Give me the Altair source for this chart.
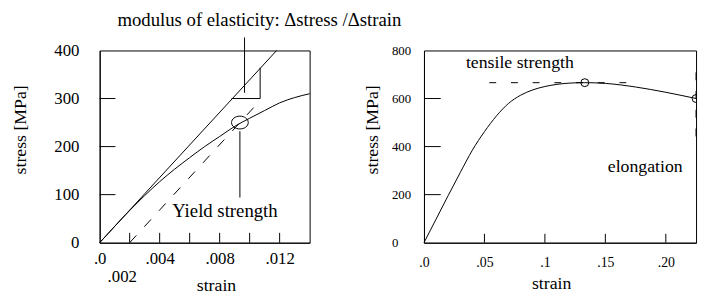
import altair as alt
import pandas as pd

# ---------------- data ----------------
# left panel: low-strain region
left_strain = [0, 0.001, 0.002, 0.003, 0.004, 0.005, 0.006, 0.007, 0.008, 0.009, 0.010, 0.011, 0.012, 0.013, 0.014]
left_stress = [0, 34, 67, 98, 127, 153, 177, 200, 221, 242, 259, 275, 291, 302, 310]

elastic_strain = [0, 0.0118]
elastic_stress = [0, 400]

offset_strain = [0.002, 0.0105]
offset_stress = [0, 289]

triangle_strain = [0.0088, 0.0107, 0.0107]
triangle_stress = [300, 300, 364]

modulus_pointer_strain = [0.00966]
modulus_pointer_top = [427]
modulus_pointer_bottom = [312]

yield_strain = [0.00935]
yield_stress = [250]
yield_pointer_top = [232]
yield_pointer_bottom = [94]

left_note_text = ["modulus of elasticity: \u0394stress /\u0394strain", "Yield strength"]
left_note_strain = [0.01065, 0.00835]
left_note_stress = [464, 66]

left_x_tick_values = [0.002, 0.004, 0.006, 0.008, 0.010, 0.012]
left_y_tick_values = [100, 200, 300]
left_x_label_values = [0, 0.004, 0.008, 0.012]
left_x_labels = [".0", ".004", ".008", ".012"]
left_x_label2_values = [0.002]
left_x_labels2 = [".002"]
left_y_label_values = [0, 100, 200, 300, 400]

# right panel: full curve
right_strain = [0, 0.01, 0.02, 0.03, 0.04, 0.05, 0.06, 0.07, 0.08, 0.09, 0.10, 0.11, 0.12, 0.133, 0.15, 0.175, 0.20, 0.225]
right_stress = [0, 98, 196, 292, 385, 462, 528, 580, 614, 636, 650, 659, 664, 666, 663, 648, 626, 600]

tensile_line_strain = [0.054, 0.174]
tensile_line_stress = [666, 666]

marker_strain = [0.133, 0.225]
marker_stress = [666, 600]

elong_strain = [0.225]
elong_top = [709]
elong_bottom = [429]

right_note_text = ["tensile strength", "elongation"]
right_note_strain = [0.0793, 0.183]
right_note_stress = [746, 313]

right_x_tick_values = [0.05, 0.10, 0.15, 0.20]
right_y_tick_values = [200, 400, 600]
right_x_label_values = [0, 0.05, 0.10, 0.15, 0.20]
right_x_labels = [".0", ".05", ".1", ".15", ".20"]
right_y_label_values = [0, 200, 400, 600, 800]

# ---------------- helpers ----------------
FONT = "Liberation Serif"
LW, LH = 213, 195
RW, RH = 276, 195

lxs = alt.Scale(domain=[0, 0.014], nice=False, zero=False)
lys = alt.Scale(domain=[0, 400], nice=False, zero=False)
rxs = alt.Scale(domain=[0, 0.225], nice=False, zero=False)
rys = alt.Scale(domain=[0, 800], nice=False, zero=False)

AX = dict(labelFont=FONT, titleFont=FONT, labelColor="black", titleColor="black",
          titleFontWeight="normal", grid=False, ticks=False, domainColor="black",
          labelFlush=False, labelOverlap=False)


def lx(f, **kw):
    return alt.X(f"{f}:Q", scale=lxs, axis=None, **kw)


def ly(f, **kw):
    return alt.Y(f"{f}:Q", scale=lys, axis=None, **kw)


def rx(f, **kw):
    return alt.X(f"{f}:Q", scale=rxs, axis=None, **kw)


def ry(f, **kw):
    return alt.Y(f"{f}:Q", scale=rys, axis=None, **kw)


def label_expr(values, labels):
    expr = "''"
    for v, t in reversed(list(zip(values, labels))):
        expr = f"abs(datum.value - {v}) < 1e-9 ? '{t}' : ({expr})"
    return expr


ELLIPSE = "M-1,0A1,0.765,0,1,0,1,0A1,0.765,0,1,0,-1,0Z"

# ---------------- left panel ----------------
ldf = pd.DataFrame({"strain": left_strain, "stress": left_stress})
left_curve = alt.Chart(ldf).mark_line(interpolate="monotone", color="black", strokeWidth=1).encode(
    x=alt.X("strain:Q", scale=lxs,
            axis=alt.Axis(values=left_x_label_values, orient="bottom",
                          labelExpr=label_expr(left_x_label_values, left_x_labels),
                          labelFontSize=17, labelPadding=8,
                          title="strain", titleFontSize=18, titleX=118, titleY=43,
                          titleBaseline="middle", titleAlign="center", **AX)),
    y=alt.Y("stress:Q", scale=lys,
            axis=alt.Axis(values=left_y_label_values, orient="left", format="d", labelFontSize=17,
                          labelPadding=21, labelAlign="right", labelBaseline="middle",
                          title="stress [MPa]", titleFontSize=18, titleX=-80, titleY=80,
                          titleAngle=270, titleBaseline="middle", titleAlign="center", **AX)),
)

elastic = alt.Chart(pd.DataFrame({"strain": elastic_strain, "stress": elastic_stress})).mark_line(
    color="black", strokeWidth=1).encode(x=lx("strain"), y=ly("stress"))

# dashed 0.2% offset line; also carries the second row of x labels (".002")
offset_line = alt.Chart(pd.DataFrame({"strain": offset_strain, "stress": offset_stress})).mark_line(
    color="black", strokeWidth=1, strokeDash=[10, 12]).encode(
    x=alt.X("strain:Q", scale=lxs,
            axis=alt.Axis(values=left_x_label2_values, orient="bottom",
                          labelExpr=label_expr(left_x_label2_values, left_x_labels2),
                          labelFontSize=17, labelPadding=26, labelOffset=-8,
                          domain=False, title=None, **AX)),
    y=ly("stress"))

triangle = alt.Chart(pd.DataFrame({"strain": triangle_strain, "stress": triangle_stress,
                                   "k": list(range(len(triangle_strain)))})).mark_line(
    color="black", strokeWidth=1).encode(x=lx("strain"), y=ly("stress"), order="k:O")

mod_pointer = alt.Chart(pd.DataFrame({"strain": modulus_pointer_strain, "top": modulus_pointer_top,
                                      "bottom": modulus_pointer_bottom})).mark_rule(
    color="black", strokeWidth=1).encode(x=lx("strain"), y=ly("top"), y2="bottom:Q")

yield_pointer = alt.Chart(pd.DataFrame({"strain": yield_strain, "top": yield_pointer_top,
                                        "bottom": yield_pointer_bottom})).mark_rule(
    color="black", strokeWidth=1).encode(x=lx("strain"), y=ly("top"), y2="bottom:Q")

yield_mark = alt.Chart(pd.DataFrame({"strain": yield_strain, "stress": yield_stress})).mark_point(
    shape=ELLIPSE, size=289, filled=False, color="black", strokeWidth=1, opacity=1).encode(
    x=lx("strain"), y=ly("stress"))

left_note = alt.Chart(pd.DataFrame({"t": left_note_text, "strain": left_note_strain,
                                    "stress": left_note_stress})).mark_text(
    font=FONT, fontSize=19, color="black", align="center", baseline="middle").encode(
    x=lx("strain"), y=ly("stress"), text="t:N")

left_xt = alt.Chart(pd.DataFrame({"v": left_x_tick_values})).mark_rule(color="black", strokeWidth=1).encode(
    x=lx("v"), y=alt.value(LH), y2=alt.value(LH - 10))
left_yt = alt.Chart(pd.DataFrame({"v": left_y_tick_values})).mark_rule(color="black", strokeWidth=1).encode(
    y=ly("v"), x=alt.value(0), x2=alt.value(16))

left = alt.layer(
    left_curve, offset_line, elastic, triangle, mod_pointer, yield_pointer, yield_mark, left_note,
    left_xt, left_yt,
).resolve_axis(x="independent", y="independent").properties(width=LW, height=LH)

# ---------------- right panel ----------------
rdf = pd.DataFrame({"strain": right_strain, "stress": right_stress})
right_curve = alt.Chart(rdf).mark_line(interpolate="monotone", color="black", strokeWidth=1).encode(
    x=alt.X("strain:Q", scale=rxs,
            axis=alt.Axis(values=right_x_label_values, orient="bottom",
                          labelExpr=label_expr(right_x_label_values, right_x_labels),
                          labelFontSize=14, labelPadding=13,
                          title="strain", titleFontSize=18, titleX=129, titleY=41,
                          titleBaseline="middle", titleAlign="center", **AX)),
    y=alt.Y("stress:Q", scale=rys,
            axis=alt.Axis(values=right_y_label_values, orient="left", format="d", labelFontSize=13,
                          labelPadding=33, labelAlign="left", labelBaseline="middle",
                          title="stress [MPa]", titleFontSize=18, titleX=-52, titleY=80,
                          titleAngle=270, titleBaseline="middle", titleAlign="center", **AX)),
)

tensile_line = alt.Chart(pd.DataFrame({"strain": tensile_line_strain, "stress": tensile_line_stress})).mark_line(
    color="black", strokeWidth=1, strokeDash=[7, 15]).encode(x=rx("strain"), y=ry("stress"))

elong_line = alt.Chart(pd.DataFrame({"strain": elong_strain, "top": elong_top,
                                     "bottom": elong_bottom})).mark_rule(
    color="black", strokeWidth=1, strokeDash=[8, 11]).encode(x=rx("strain"), y=ry("top"), y2="bottom:Q")

markers = alt.Chart(pd.DataFrame({"strain": marker_strain, "stress": marker_stress})).mark_point(
    shape="circle", size=64, filled=False, color="black", strokeWidth=1, opacity=1, clip=True).encode(
    x=rx("strain"), y=ry("stress"))

right_note = alt.Chart(pd.DataFrame({"t": right_note_text, "strain": right_note_strain,
                                     "stress": right_note_stress})).mark_text(
    font=FONT, fontSize=18, color="black", align="center", baseline="middle").encode(
    x=rx("strain"), y=ry("stress"), text="t:N")

right_xt = alt.Chart(pd.DataFrame({"v": right_x_tick_values})).mark_rule(color="black", strokeWidth=1).encode(
    x=rx("v"), y=alt.value(RH), y2=alt.value(RH - 9))
right_yt = alt.Chart(pd.DataFrame({"v": right_y_tick_values})).mark_rule(color="black", strokeWidth=1).encode(
    y=ry("v"), x=alt.value(0), x2=alt.value(17))

right = alt.layer(
    right_curve, tensile_line, elong_line, markers, right_note, right_xt, right_yt,
).resolve_axis(x="independent", y="independent").properties(width=RW, height=RH)

chart = alt.hconcat(
    left, right, spacing=116, bounds="flush",
    padding={"left": 3, "top": 0, "right": 0, "bottom": 0},
).configure_axis(
    labelFont=FONT, titleFont=FONT, labelColor="black", titleColor="black",
    titleFontWeight="normal", grid=False, ticks=False, domainColor="black", domainWidth=1,
    labelFlush=False, labelOverlap=False,
).configure_view(stroke="black", strokeWidth=1).properties(background="white")

chart.save("out.html", embed_options={"renderer": "svg", "actions": False})
